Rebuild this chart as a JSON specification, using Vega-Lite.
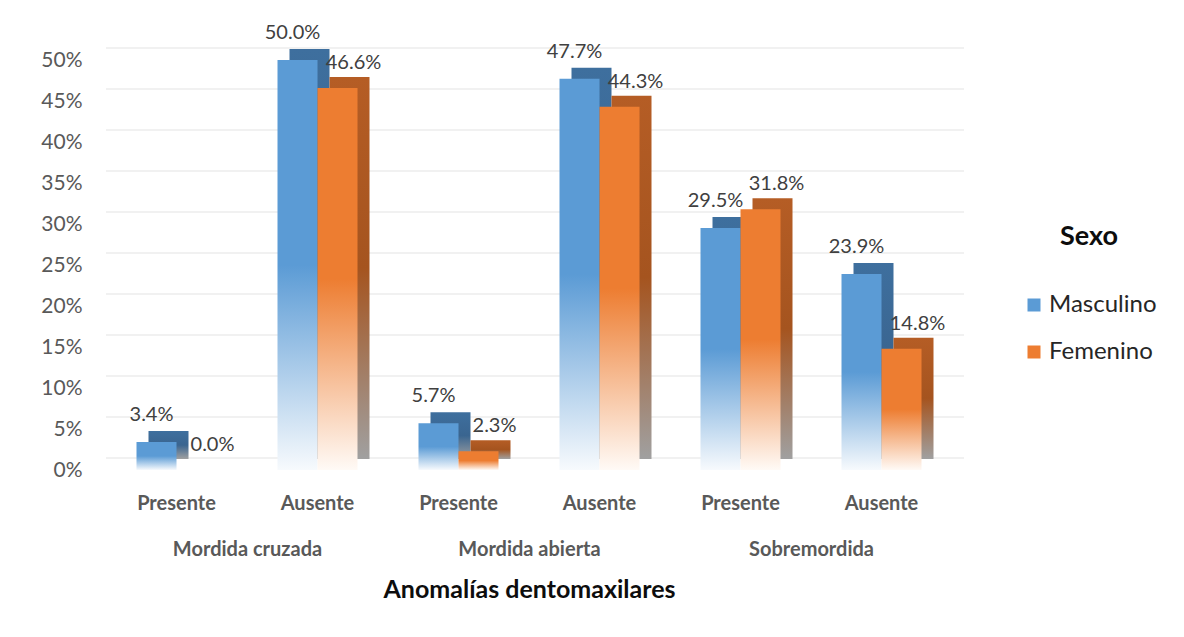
{
  "$schema": "https://vega.github.io/schema/vega-lite/v6.json",
  "autosize": {"type": "none"},
  "width": 846,
  "height": 410,
  "padding": {"left": 106, "top": 60, "right": 232, "bottom": 167},
  "background": "white",
  "config": {
    "font": "Lato",
    "view": {"stroke": null}
  },
  "datasets": {
    "bars": [
      {"grupo": "Mordida cruzada", "key": "Mordida cruzada|Presente", "sexo": "Masculino", "p": 0.034},
      {"grupo": "Mordida cruzada", "key": "Mordida cruzada|Presente", "sexo": "Femenino", "p": 0.0},
      {"grupo": "Mordida cruzada", "key": "Mordida cruzada|Ausente", "sexo": "Masculino", "p": 0.5},
      {"grupo": "Mordida cruzada", "key": "Mordida cruzada|Ausente", "sexo": "Femenino", "p": 0.466},
      {"grupo": "Mordida abierta", "key": "Mordida abierta|Presente", "sexo": "Masculino", "p": 0.057},
      {"grupo": "Mordida abierta", "key": "Mordida abierta|Presente", "sexo": "Femenino", "p": 0.023},
      {"grupo": "Mordida abierta", "key": "Mordida abierta|Ausente", "sexo": "Masculino", "p": 0.477},
      {"grupo": "Mordida abierta", "key": "Mordida abierta|Ausente", "sexo": "Femenino", "p": 0.443},
      {"grupo": "Sobremordida", "key": "Sobremordida|Presente", "sexo": "Masculino", "p": 0.295},
      {"grupo": "Sobremordida", "key": "Sobremordida|Presente", "sexo": "Femenino", "p": 0.318},
      {"grupo": "Sobremordida", "key": "Sobremordida|Ausente", "sexo": "Masculino", "p": 0.239},
      {"grupo": "Sobremordida", "key": "Sobremordida|Ausente", "sexo": "Femenino", "p": 0.148}
    ],
    "grid": [
      {"v": 0}, {"v": 0.05}, {"v": 0.1}, {"v": 0.15}, {"v": 0.2}, {"v": 0.25},
      {"v": 0.3}, {"v": 0.35}, {"v": 0.4}, {"v": 0.45}, {"v": 0.5}
    ]
  },
  "layer": [
    {
      "data": {"name": "grid"},
      "mark": {"type": "rule", "color": "#E3E3E3", "strokeWidth": 1.2, "xOffset": 12, "yOffset": -12},
      "encoding": {
        "y": {
          "field": "v", "type": "quantitative",
          "scale": {"domain": [0, 0.5], "nice": false, "zero": true},
          "axis": {
            "values": [0, 0.05, 0.1, 0.15, 0.2, 0.25, 0.3, 0.35, 0.4, 0.45, 0.5],
            "format": ".0%", "grid": false, "ticks": false, "domain": false,
            "labelPadding": 24, "labelFont": "Lato", "labelFontSize": 21, "labelColor": "#595959",
            "title": null
          }
        }
      }
    },
    {
      "data": {"name": "bars"},
      "mark": {"type": "text", "text": ""},
      "encoding": {
        "x": {
          "field": "grupo", "type": "nominal", "sort": null,
          "scale": {"paddingInner": 0, "paddingOuter": 0},
          "axis": {
            "orient": "bottom", "ticks": false, "domain": false, "grid": false,
            "labelPadding": 69, "labelFont": "Lato", "labelFontSize": 20, "labelFontWeight": "bold",
            "labelColor": "#595959", "labelAngle": 0,
            "title": "Anomalías dentomaxilares", "titleFont": "Lato", "titleFontSize": 25,
            "titleFontWeight": "bold", "titleColor": "#0D0D0D", "titlePadding": 18
          }
        }
      }
    },
    {
      "data": {"name": "bars"},
      "layer": [
        {
          "transform": [{"filter": "datum.sexo === 'Masculino'"}],
          "mark": {
            "type": "bar", "width": {"band": 0.5}, "xOffset": -8, "yOffset": -11,
            "color": {"gradient": "linear", "x1": 0, "y1": 0, "x2": 0, "y2": 1,
              "stops": [{"offset": 0, "color": "#3E6F9E"}, {"offset": 0.5, "color": "#3A6590"}, {"offset": 1, "color": "#A0A0A0"}]}
          },
          "encoding": {"y": {"field": "p", "type": "quantitative"}}
        },
        {
          "transform": [{"filter": "datum.sexo === 'Femenino'"}],
          "mark": {
            "type": "bar", "width": {"band": 0.5}, "xOffset": 32, "yOffset": -11,
            "color": {"gradient": "linear", "x1": 0, "y1": 0, "x2": 0, "y2": 1,
              "stops": [{"offset": 0, "color": "#B55D25"}, {"offset": 0.5, "color": "#A5541F"}, {"offset": 1, "color": "#A0A0A0"}]}
          },
          "encoding": {"y": {"field": "p", "type": "quantitative"}}
        },
        {
          "transform": [{"filter": "datum.sexo === 'Masculino'"}],
          "mark": {
            "type": "bar", "width": {"band": 0.5}, "xOffset": -20,
            "color": {"gradient": "linear", "x1": 0, "y1": 0, "x2": 0, "y2": 1,
              "stops": [{"offset": 0, "color": "#5B9BD5"}, {"offset": 0.5, "color": "#5B9BD5"}, {"offset": 1, "color": "#F7FAFD"}]}
          },
          "encoding": {"y": {"field": "p", "type": "quantitative"}}
        },
        {
          "transform": [{"filter": "datum.sexo === 'Femenino'"}],
          "mark": {
            "type": "bar", "width": {"band": 0.5}, "xOffset": 20,
            "color": {"gradient": "linear", "x1": 0, "y1": 0, "x2": 0, "y2": 1,
              "stops": [{"offset": 0, "color": "#ED7D31"}, {"offset": 0.5, "color": "#ED7D31"}, {"offset": 1, "color": "#FFFAF6"}]}
          },
          "encoding": {"y": {"field": "p", "type": "quantitative"}}
        },
        {
          "mark": {"type": "bar", "width": {"band": 0.5}},
          "encoding": {
            "y": {"datum": 0, "type": "quantitative"},
            "color": {
              "field": "sexo", "type": "nominal",
              "scale": {"domain": ["Masculino", "Femenino"], "range": ["#5B9BD5", "#ED7D31"]},
              "legend": {
                "orient": "none", "legendX": 916, "legendY": 164,
                "title": "Sexo", "titleFont": "Lato", "titleFontSize": 27, "titleFontWeight": "bold",
                "titleColor": "#0D0D0D", "titleAnchor": "middle", "titlePadding": 42,
                "labelFont": "Lato", "labelFontSize": 24, "labelColor": "#262626", "labelOffset": 3,
                "symbolType": "square", "symbolSize": 169, "symbolStrokeWidth": 0, "rowPadding": 23
              }
            }
          }
        },
        {
          "transform": [{"filter": "datum.sexo === 'Masculino'"}],
          "mark": {"type": "text", "font": "Lato", "fontSize": 20, "color": "#404040", "baseline": "middle", "dy": -27, "xOffset": -25},
          "encoding": {
            "y": {"field": "p", "type": "quantitative"},
            "text": {"field": "p", "type": "quantitative", "format": ".1%"}
          }
        },
        {
          "transform": [{"filter": "datum.sexo === 'Femenino'"}],
          "mark": {"type": "text", "font": "Lato", "fontSize": 20, "color": "#404040", "baseline": "middle", "dy": -25, "xOffset": 36},
          "encoding": {
            "y": {"field": "p", "type": "quantitative"},
            "text": {"field": "p", "type": "quantitative", "format": ".1%"}
          }
        }
      ],
      "encoding": {
        "x": {
          "field": "key", "type": "nominal", "sort": null,
          "scale": {"paddingInner": 0.4326, "paddingOuter": 0.2163},
          "axis": {
            "orient": "bottom", "ticks": false, "domain": false, "grid": false,
            "labelExpr": "split(datum.label, '|')[1]", "labelAngle": 0,
            "labelPadding": 23, "labelFont": "Lato", "labelFontSize": 20, "labelFontWeight": "bold",
            "labelColor": "#595959", "title": null
          }
        },
        "y": {
          "field": "p", "type": "quantitative",
          "axis": {
            "values": [0, 0.05, 0.1, 0.15, 0.2, 0.25, 0.3, 0.35, 0.4, 0.45, 0.5],
            "format": ".0%", "grid": false, "ticks": false, "domain": false,
            "labelPadding": 24, "labelFont": "Lato", "labelFontSize": 21, "labelColor": "#595959",
            "title": null
          }
        }
      }
    }
  ],
  "resolve": {"scale": {"x": "independent"}}
}
